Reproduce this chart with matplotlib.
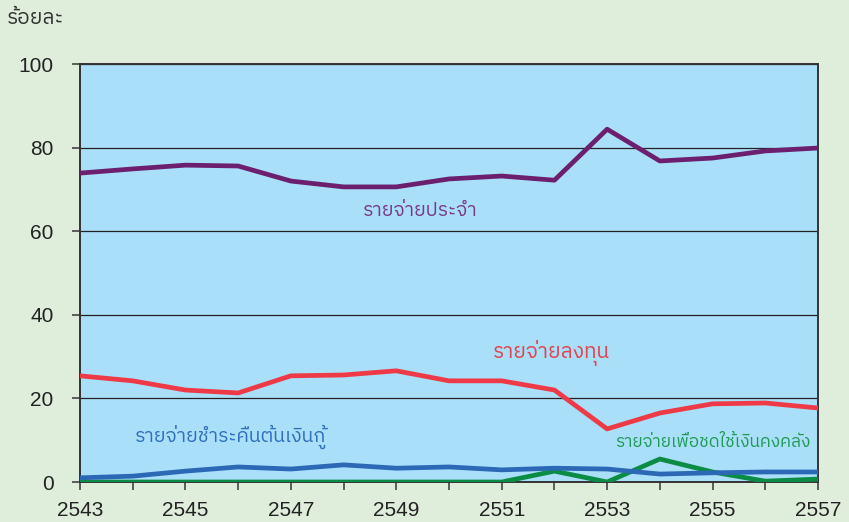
import matplotlib
matplotlib.use("Agg")
import matplotlib.pyplot as plt
from matplotlib import font_manager
from matplotlib.ticker import MultipleLocator

# ---- data ----
years = list(range(2543, 2558))
recurring = [73.9, 74.9, 75.8, 75.6, 72.0, 70.6, 70.6, 72.5, 73.2, 72.2, 84.4, 76.8, 77.5, 79.2, 79.9]
investment = [25.4, 24.2, 22.0, 21.3, 25.4, 25.6, 26.6, 24.2, 24.2, 22.0, 12.7, 16.5, 18.7, 18.9, 17.7]
loan_repay = [1.0, 1.4, 2.6, 3.6, 3.1, 4.1, 3.3, 3.6, 2.9, 3.3, 3.1, 1.9, 2.2, 2.4, 2.4]
treasury = [0.0, 0.0, 0.0, 0.0, 0.0, 0.0, 0.0, 0.0, 0.0, 2.6, 0.0, 5.5, 2.4, 0.2, 0.7]
series_names = ["รายจ่ายประจำ", "รายจ่ายลงทุน", "รายจ่ายชำระคืนต้นเงินกู้", "รายจ่ายเพื่อชดใช้เงินคงคลัง"]
ylabel_text = "ร้อยละ"

# ---- find a font with Thai glyphs ----
thai_family = None
try:
    from fontTools.ttLib import TTFont
    preferred = []
    for f in font_manager.fontManager.ttflist:
        try:
            tt = TTFont(f.fname, fontNumber=0, lazy=True)
            cmap = tt.getBestCmap()
            if cmap and 0x0E23 in cmap and 0x0E08 in cmap:
                preferred.append(f.name)
        except Exception:
            pass
    for cand in preferred:
        if "Sans" in cand:
            thai_family = cand
            break
    if thai_family is None and preferred:
        thai_family = preferred[0]
except Exception:
    pass

num_family = ["Liberation Sans", "DejaVu Sans"]
thai_fams = ([thai_family] if thai_family else []) + ["DejaVu Sans"]
plt.rcParams["font.family"] = num_family

fig_bg = "#dfeedb"
ax_bg = "#a9dff9"
c_purple = "#6d1f6f"
c_red = "#ee3a46"
c_blue = "#2b68b5"
c_green = "#0b8c45"

fig = plt.figure(figsize=(8.49, 5.22), dpi=100, facecolor=fig_bg)
ax = fig.add_axes([80 / 849, 40 / 522, 738 / 849, 418 / 522], facecolor=ax_bg)

lw = 3.4
ax.plot(years, treasury, color=c_green, lw=lw, solid_joinstyle="round", zorder=3)
ax.plot(years, loan_repay, color=c_blue, lw=lw, solid_joinstyle="round", zorder=4)
ax.plot(years, investment, color=c_red, lw=lw, solid_joinstyle="round", zorder=4)
ax.plot(years, recurring, color=c_purple, lw=lw, solid_joinstyle="round", zorder=4)

ax.set_xlim(2543, 2557)
ax.set_ylim(0, 100)
ax.yaxis.set_major_locator(MultipleLocator(20))
ax.set_xticks(years)
ax.set_xticklabels([str(y) if (y - 2543) % 2 == 0 else "" for y in years])
ax.grid(axis="y", color="#222222", lw=0.9, zorder=1)
ax.set_axisbelow(True)
for s in ax.spines.values():
    s.set_color("#333333")
    s.set_linewidth(1.4)
ax.tick_params(axis="both", colors="#444444", labelcolor="#222222", labelsize=15,
               length=6, width=1.2, direction="out")
ax.tick_params(axis="x", pad=8)
ax.tick_params(axis="y", pad=13)

tk = dict(fontsize=14, family=thai_fams)
ax.text(2549.45, 64.8, series_names[0], color="#7a3a86", ha="center", va="center", **tk)
ax.text(2551.95, 31.0, series_names[1], color="#e2434f", ha="center", va="center", fontsize=15, family=thai_fams)
ax.text(2545.86, 10.8, series_names[2], color="#2f70bd", ha="center", va="center", **tk)
ax.text(2555.0, 9.6, series_names[3], color="#1f9a55", ha="center", va="center", fontsize=12.3, family=thai_fams)

fig.text(7 / 849, 1 - 19 / 522, ylabel_text, color="#333333", ha="left", va="center",
         fontsize=15, family=thai_fams)

fig.savefig("out.png", dpi=100, facecolor=fig_bg)
